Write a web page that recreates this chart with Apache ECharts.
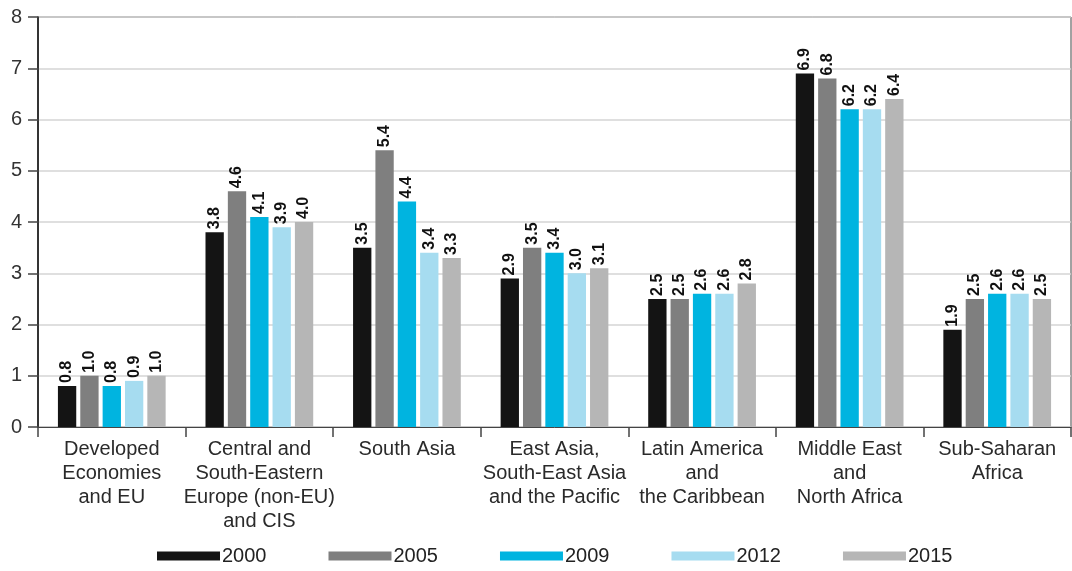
<!DOCTYPE html>
<html>
<head>
<meta charset="utf-8">
<script src="https://cdn.jsdelivr.net/npm/echarts@6/dist/echarts.min.js"></script>
<style>
  html, body { margin: 0; padding: 0; background: #fff; }
  #chart { width: 1072px; height: 571px; }
</style>
</head>
<body>
<div id="chart"></div>
<script>
// Regions shown along the x axis
const categories = [
  'Developed\nEconomies\nand EU',
  'Central and\nSouth-Eastern\nEurope (non-EU)\nand CIS',
  'South Asia',
  'East Asia,\nSouth-East Asia\nand the Pacific',
  'Latin America\nand\nthe Caribbean',
  'Middle East\nand\nNorth Africa',
  'Sub-Saharan\nAfrica'
];

// One array per survey year
const years = ['2000', '2005', '2009', '2012', '2015'];
const v2000 = [0.8, 3.8, 3.5, 2.9, 2.5, 6.9, 1.9];
const v2005 = [1.0, 4.6, 5.4, 3.5, 2.5, 6.8, 2.5];
const v2009 = [0.8, 4.1, 4.4, 3.4, 2.6, 6.2, 2.6];
const v2012 = [0.9, 3.9, 3.4, 3.0, 2.6, 6.2, 2.6];
const v2015 = [1.0, 4.0, 3.3, 3.1, 2.8, 6.4, 2.5];

const yTicks = [0, 1, 2, 3, 4, 5, 6, 7, 8];

const seriesValues = [v2000, v2005, v2009, v2012, v2015];
const colors = ['#141414', '#7f7f7f', '#00b4e0', '#a6dcf0', '#b6b6b6'];

const FONT = '"Liberation Sans", Arial, sans-serif';

const chart = echarts.init(document.getElementById('chart'), null, { renderer: 'canvas' });

chart.setOption({
  animation: false,
  color: colors,
  grid: {
    left: 38, right: 1, top: 17, bottom: 144,
    show: true, borderColor: '#444', borderWidth: 1
  },
  legend: {
    bottom: 0,
    left: 152,
    icon: 'rect',
    itemWidth: 63,
    itemHeight: 9,
    itemGap: 62,
    textStyle: { fontFamily: FONT, fontSize: 20, color: '#222', padding: [0, 0, 0, -3] },
    data: years
  },
  xAxis: {
    type: 'category',
    data: categories,
    axisLine: { lineStyle: { color: '#444', width: 1 } },
    axisTick: { show: true, length: 10, interval: 0, lineStyle: { color: '#444', width: 1.5 } },
    axisLabel: {
      interval: 0, margin: 10,
      fontFamily: FONT, fontSize: 20, lineHeight: 24, color: '#2a2a2a', align: 'center'
    }
  },
  yAxis: {
    type: 'value',
    min: yTicks[0],
    max: yTicks[yTicks.length - 1],
    interval: 1,
    axisLine: { show: true, lineStyle: { color: '#111', width: 1.5 } },
    axisTick: { show: true, length: 10, lineStyle: { color: '#444', width: 1.5 } },
    axisLabel: { margin: 16, fontFamily: FONT, fontSize: 20, color: '#333' },
    splitLine: { show: true, lineStyle: { color: '#d4d4d4', width: 1.5 } }
  },
  series: years.map((y, i) => ({
    name: y,
    type: 'bar',
    data: seriesValues[i],
    barGap: '22%',
    barCategoryGap: '27%',
    label: {
      show: true,
      position: 'top',
      rotate: 90,
      align: 'left',
      verticalAlign: 'middle',
      distance: 3,
      fontFamily: FONT,
      fontSize: 16,
      fontWeight: 'bold',
      color: '#111',
      formatter: p => p.value.toFixed(1)
    }
  }))
});
</script>
</body>
</html>
